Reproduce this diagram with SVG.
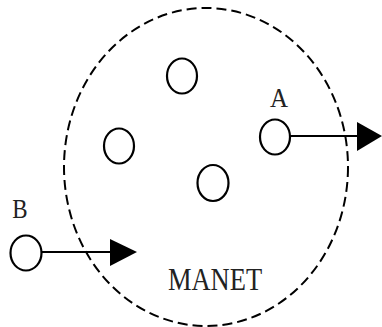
<svg xmlns="http://www.w3.org/2000/svg" width="382" height="327" viewBox="0 0 382 327">
<style>
.node{fill:none;stroke:#000;stroke-width:2.2}
.lbl{font-family:"Liberation Serif","Times New Roman",serif;fill:#222}
.conn{stroke:#000;stroke-width:2;fill:none}
.head{fill:#000}
</style>
<rect width="382" height="327" fill="#fff"/>
<g id="manet">
<ellipse cx="206" cy="167" rx="142" ry="159" fill="none" stroke="#000" stroke-width="2" stroke-dasharray="10 5"/>
<text class="lbl" x="0" y="0" font-size="26.5" text-anchor="middle" transform="translate(215 290) scale(1 1.22)">MANET</text>
</g>
<g id="n1"><ellipse class="node" cx="182" cy="76" rx="15" ry="17.5"/></g>
<g id="n2"><ellipse class="node" cx="119" cy="146" rx="15" ry="17.5"/></g>
<g id="n3"><ellipse class="node" cx="213" cy="183" rx="15.5" ry="18"/></g>
<g id="nodeA"><ellipse class="node" cx="275" cy="137" rx="15" ry="17.5"/>
<text class="lbl" x="0" y="0" font-size="25" text-anchor="middle" transform="translate(279 107) scale(1 1.12)">A</text></g>
<g id="nodeB"><ellipse class="node" cx="26" cy="253" rx="15.5" ry="17.5"/>
<text class="lbl" x="0" y="0" font-size="23" text-anchor="middle" transform="translate(20 218) scale(1 1.18)">B</text></g>
<g id="connectors">
<line class="conn" x1="290" y1="136" x2="360" y2="136"/>
<polygon class="head" points="357,122 382,136 357,151"/>
<line class="conn" x1="42" y1="252" x2="112" y2="252"/>
<polygon class="head" points="110,239 137,252 110,266"/>
</g>
</svg>
